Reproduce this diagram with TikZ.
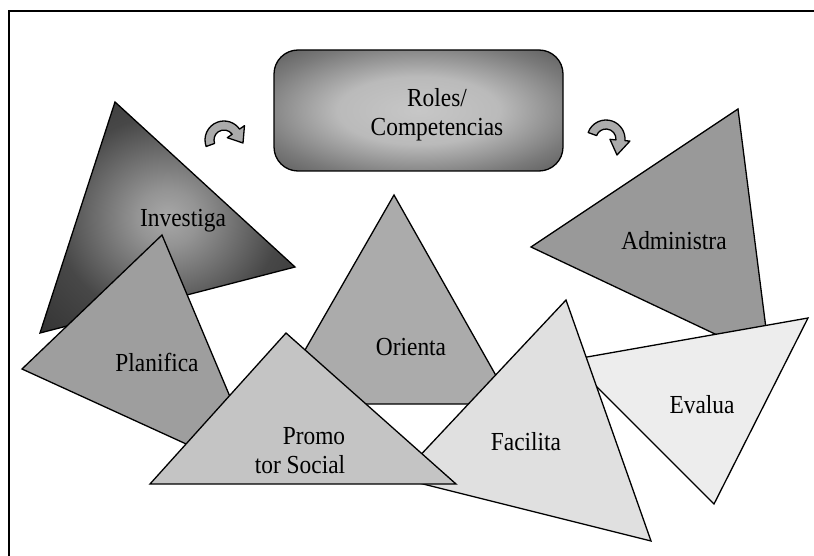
\documentclass[tikz,border=0pt]{standalone}
\usepackage{fontspec}
\setmainfont[FakeStretch=0.9]{Liberation Serif}
\usetikzlibrary{positioning}

\pgfdeclareradialshading{boxglow}{\pgfpoint{0bp}{0bp}}{color(0bp)=(black!22); color(14bp)=(black!27); color(28bp)=(black!52); color(40bp)=(black!70); color(50bp)=(black!78)}
\pgfdeclareradialshading{trianglow}{\pgfpoint{0bp}{0bp}}{color(0bp)=(black!34); color(6bp)=(black!42); color(22bp)=(black!72); color(50bp)=(black!88)}

\begin{document}
\begin{tikzpicture}[x=1pt,y=-1pt,
    tri/.style={draw=black,line width=1.3pt},
    lbl/.style={font=\fontsize{26}{29}\selectfont,anchor=base,inner sep=0pt},
    curl/.style={fill=black!33,draw=black,line width=1.3pt,line join=round}]
  \useasboundingbox (0,0) rectangle (814,556);
  \clip (0,0) rectangle (814,556);
  \draw[line width=1.5pt] (9,11) rectangle (830,580);

  % central box
  \shadedraw[shading=boxglow,rounded corners=24pt,line width=1.3pt] (274,50) rectangle (563,171);
  \node[lbl,anchor=center,align=center] (roles) at (437,115) {Roles/\\Competencias};

  % curved arrows
  \begin{scope}[shift={(224,140)}]
    \filldraw[curl] (-200:19) arc[start angle=-200,end angle=-35,radius=19]
      -- (-35:25) -- (19,3) -- (-35:4) -- (-35:10)
      arc[start angle=-35,end angle=-200,radius=10] -- cycle;
  \end{scope}
  \begin{scope}[shift={(606,139)}]
    \filldraw[curl] (-160:19) arc[start angle=-160,end angle=5,radius=19]
      -- (5:24) -- (11,16) -- (5:4) -- (5:10)
      arc[start angle=5,end angle=-160,radius=10] -- cycle;
  \end{scope}

  % triangles, back to front
  \shadedraw[tri,shading=trianglow] (115,102) -- (295,267) -- (40,333) -- cycle;
  \node[lbl] (investiga) at (183,227) {Investiga};

  \filldraw[tri,fill=black!38] (162,235) -- (265,480) -- (22,369) -- cycle;
  \node[lbl] (planifica) at (157,371) {Planifica};

  \filldraw[tri,fill=black!33] (394,195) -- (512,404) -- (274,404) -- cycle;
  \node[lbl] (orienta) at (411,355) {Orienta};

  \filldraw[tri,fill=black!40] (738,109) -- (770,360) -- (531,247) -- cycle;
  \node[lbl] (administra) at (674,250) {Administra};

  \filldraw[tri,fill=black!7] (570,360) -- (808,318) -- (714,504) -- cycle;
  \node[lbl] (evalua) at (702,413) {Evalua};

  \filldraw[tri,fill=black!12] (566,300) -- (651,541) -- (399,478) -- cycle;
  \node[lbl] (facilita) at (526,450) {Facilita};

  \filldraw[tri,fill=black!23] (286,333) -- (456,484) -- (150,484) -- cycle;
  \node[lbl,anchor=center,align=right] (promotor) at (300,451) {Promo\\tor Social};
\end{tikzpicture}
\end{document}
